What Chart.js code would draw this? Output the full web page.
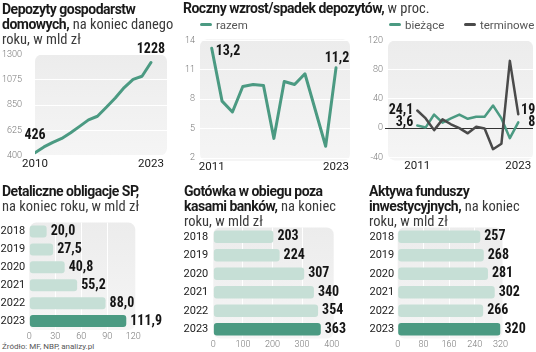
<!DOCTYPE html>
<html>
<head>
<meta charset="utf-8">
<script src="https://cdn.jsdelivr.net/npm/chart.js@4.4.1/dist/chart.umd.min.js"></script>
<style>
body { margin: 0; width: 536px; height: 352px; background: #fff; position: relative; overflow: hidden; font-family: Roboto, sans-serif; }
canvas { position: absolute; }
.t { position: absolute; font-size: 14px; line-height: 14.5px; color: #1a1a1a; white-space: nowrap; z-index: 2; }
.t b { font-weight: 700; letter-spacing: -0.5px; }
.t span { font-family: "Liberation Sans Narrow", "Roboto Condensed", Roboto, sans-serif; font-weight: 400; color: #3a3a3a; font-size: 14.5px; }
.lg { position: absolute; font-family: "Liberation Sans Narrow", Roboto, sans-serif; font-size: 11.5px; color: #555; line-height: 12px; z-index: 2; }
.lg i { display: inline-block; width: 12px; height: 3px; border-radius: 2px; vertical-align: middle; margin: -2px 4px 0 0; }
.src { position: absolute; left: 2px; top: 342px; font-family: "Liberation Sans Narrow", Roboto, sans-serif; font-size: 8px; color: #555; }
</style>
</head>
<body>

<div class="t" style="left:2px;top:2px"><b>Depozyty gospodarstw<br>domowych,</b> <span>na koniec danego<br>roku, w mld zł</span></div>
<div class="t" style="left:183px;top:1px"><b>Roczny wzrost/spadek depozytów,</b> <span>w proc.</span></div>
<div class="lg" style="left:200px;top:19px"><i style="background:#4b9a82"></i>razem</div>
<div class="lg" style="left:389px;top:19px"><i style="background:#4b9a82"></i>bieżące</div>
<div class="lg" style="left:464px;top:19px"><i style="background:#4a4a4a"></i>terminowe</div>
<div class="t" style="left:2px;top:184px"><b>Detaliczne obligacje SP,</b><br><span>na koniec roku, w mld zł</span></div>
<div class="t" style="left:184px;top:184px"><b>Gotówka w obiegu poza<br>kasami banków,</b> <span>na koniec<br>roku, w mld zł</span></div>
<div class="t" style="left:369px;top:184px"><b>Aktywa funduszy<br>inwestycyjnych,</b> <span>na koniec<br>roku, w mld zł</span></div>
<div class="src">Źródło: MF, NBP, analizy.pl</div>

<canvas id="c1" width="172" height="138" style="left:0;top:36px"></canvas>
<canvas id="c2" width="178" height="145" style="left:178px;top:30px"></canvas>
<canvas id="c3" width="180" height="145" style="left:356px;top:30px"></canvas>
<canvas id="c4" width="178" height="130" style="left:0;top:212px"></canvas>
<canvas id="c5" width="178" height="140" style="left:178px;top:212px"></canvas>
<canvas id="c6" width="180" height="140" style="left:356px;top:212px"></canvas>

<script>
// --- data ---
const depoYears = [2010, 2011, 2012, 2013, 2014, 2015, 2016, 2017, 2018, 2019, 2020, 2021, 2022, 2023];
const depoValues = [426, 477, 518, 553, 603, 660, 718, 750, 830, 912, 1005, 1078, 1106, 1228];

const growthYears = [2011, 2012, 2013, 2014, 2015, 2016, 2017, 2018, 2019, 2020, 2021, 2022, 2023];
const growthTotal = [13.2, 7.8, 6.7, 9.3, 9.5, 9.4, 4.0, 9.8, 9.5, 10.6, 6.9, 3.2, 11.2];
const growthCurrent = [3.6, 1, 18.6, 7.5, 13.3, 18.6, 12.8, 15.5, 15.5, 31, 13.3, -13.7, 8];
const growthTerm = [24.1, 13.3, -2.7, 12, 5.3, 0, -7.1, 1.8, -0.5, -28.8, -21.3, 92, 19];

const barYears = ['2018', '2019', '2020', '2021', '2022', '2023'];
const bonds = [20.0, 27.5, 40.8, 55.2, 88.0, 111.9];
const cash = [203, 224, 307, 340, 354, 363];
const funds = [257, 268, 281, 302, 266, 320];

// axis ranges: [min, max, step]
const depoAxis = [400, 1300, 225];
const totalAxis = [2, 14, 3];
const splitAxis = [-40, 120, 40];
const bondAxis = [0, 120, 30];
const cashAxis = [0, 400, 100];
const fundAxis = [0, 320, 80];

// --- style ---
const TEAL = '#4b9a82';
const TEAL_LIGHT = '#c6dfd6';
const GREY_LINE = '#4a4a4a';
const tickFont = { family: 'Roboto', size: 9, weight: '300' };
const yearFont = { family: 'Roboto', size: 11.5 };
const labelFont = 'bold 14px "Liberation Sans Narrow", "Roboto Condensed", Roboto, sans-serif';

function fmt(v, dec) {
    return v.toFixed(dec).replace('.', ',');
}

const panelBg = {
    id: 'panelBg',
    beforeDraw(chart, args, opts) {
        const { ctx, chartArea: a } = chart;
        const e = opts.extend || [0, 0, 0, 0];
        const x = a.left - e[3], y = a.top - e[0];
        const w = a.right - a.left + e[1] + e[3], h = a.bottom - a.top + e[0] + e[2];
        ctx.save();
        const g = ctx.createLinearGradient(0, y, 0, y + h);
        g.addColorStop(0, '#ececec');
        g.addColorStop(1, '#f5f5f5');
        ctx.fillStyle = g;
        ctx.beginPath();
        ctx.roundRect(x, y, w, h, 7);
        ctx.fill();
        ctx.restore();
    }
};

const zeroLine = {
    id: 'zeroLine',
    beforeDatasetsDraw(chart, args, opts) {
        if (!opts.show) return;
        const { ctx, chartArea: a } = chart;
        const y = Math.round(chart.scales.y.getPixelForValue(0)) + 0.5;
        ctx.save();
        ctx.strokeStyle = '#333';
        ctx.lineWidth = 1;
        ctx.beginPath();
        ctx.moveTo(a.left - 3, y);
        ctx.lineTo(a.right, y);
        ctx.stroke();
        ctx.restore();
    }
};

const valueLabels = {
    id: 'valueLabels',
    afterDatasetsDraw(chart, args, opts) {
        const ctx = chart.ctx;
        (opts.items || []).forEach(it => {
            const el = chart.getDatasetMeta(it.ds).data[it.i];
            ctx.save();
            ctx.font = labelFont;
            ctx.fillStyle = '#151515';
            ctx.textAlign = it.align || 'center';
            ctx.textBaseline = 'middle';
            ctx.fillText(it.text, el.x + (it.dx || 0), el.y + (it.dy || 0));
            ctx.restore();
        });
    }
};

Chart.register(panelBg, zeroLine, valueLabels);

function lineScales(xMin, xMax, xTicks, axis, yWidth, xHeight, yPad) {
    return {
        x: {
            type: 'linear', min: xMin, max: xMax,
            afterBuildTicks: s => { s.ticks = xTicks.map(v => ({ value: v })); },
            afterFit: s => { s.height = xHeight; },
            ticks: { callback: v => String(v), font: yearFont, color: '#1a1a1a', padding: 2, maxRotation: 0, autoSkip: false },
            grid: { display: false, drawTicks: false },
            border: { display: false }
        },
        y: {
            min: axis[0], max: axis[1],
            afterFit: s => { s.width = yWidth; },
            ticks: { stepSize: axis[2], callback: v => String(v), font: tickFont, color: '#777', padding: yPad, autoSkip: false },
            grid: { color: '#fff', lineWidth: 1, drawTicks: false },
            border: { display: false }
        }
    };
}

function pts(xs, ys) {
    return xs.map((x, i) => ({ x: x, y: ys[i] }));
}

const base = { responsive: false, animation: false, events: [] };

// 1. household deposits
new Chart('c1', {
    type: 'line',
    data: {
        datasets: [{
            data: pts(depoYears, depoValues),
            borderColor: TEAL, borderWidth: 3, pointRadius: 0, tension: 0,
            borderCapStyle: 'round', borderJoinStyle: 'round'
        }]
    },
    options: Object.assign({}, base, {
        layout: { padding: { top: 9.6, right: 5, left: 0, bottom: 0 } },
        scales: lineScales(2010, 2024.8, [2010, 2023], depoAxis, 35, 16, 13),
        plugins: {
            legend: { display: false }, tooltip: { enabled: false },
            panelBg: { extend: [0, 0, 0, 0] },
            valueLabels: { items: [
                { ds: 0, i: 0, text: String(depoValues[0]), dy: -17 },
                { ds: 0, i: depoValues.length - 1, text: String(depoValues[depoValues.length - 1]), dy: -13 }
            ] }
        }
    })
});

// 2. yearly growth, total
new Chart('c2', {
    type: 'line',
    data: {
        datasets: [{
            data: pts(growthYears, growthTotal),
            borderColor: TEAL, borderWidth: 3, pointRadius: 0, tension: 0,
            borderCapStyle: 'round', borderJoinStyle: 'round'
        }]
    },
    options: Object.assign({}, base, {
        layout: { padding: { top: 0.1, right: 6, left: 0, bottom: 0 } },
        scales: lineScales(2009.87, 2024.35, [2011, 2023], totalAxis, 22, 17, 5),
        plugins: {
            legend: { display: false }, tooltip: { enabled: false },
            panelBg: { extend: [1, 0, 3, 0] },
            valueLabels: { items: [
                { ds: 0, i: 0, text: fmt(growthTotal[0], 1), align: 'left', dx: 4, dy: 3 },
                { ds: 0, i: growthTotal.length - 1, text: fmt(growthTotal[growthTotal.length - 1], 1), dx: 1, dy: -9 }
            ] }
        }
    })
});

// 3. yearly growth, current vs term
const last = growthYears.length - 1;
new Chart('c3', {
    type: 'line',
    data: {
        datasets: [
            {
                data: pts(growthYears, growthTerm),
                borderColor: GREY_LINE, borderWidth: 2.5, pointRadius: 0, tension: 0,
                borderCapStyle: 'round', borderJoinStyle: 'round'
            },
            {
                data: pts(growthYears, growthCurrent),
                borderColor: TEAL, borderWidth: 2.5, pointRadius: 0, tension: 0,
                borderCapStyle: 'round', borderJoinStyle: 'round'
            }
        ]
    },
    options: Object.assign({}, base, {
        layout: { padding: { top: 2.6, right: 3, left: 0, bottom: 0 } },
        scales: lineScales(2007.52, 2024.75, [2011, 2023], splitAxis, 32, 17.6, 5),
        plugins: {
            legend: { display: false }, tooltip: { enabled: false },
            panelBg: { extend: [0, 0, 3, 0] },
            zeroLine: { show: true },
            valueLabels: { items: [
                { ds: 0, i: 0, text: fmt(growthTerm[0], 1), align: 'right', dx: -4, dy: 0 },
                { ds: 1, i: 0, text: fmt(growthCurrent[0], 1), align: 'right', dx: -4, dy: -3 },
                { ds: 0, i: last, text: String(growthTerm[last]), align: 'right', dx: 17, dy: -4 },
                { ds: 1, i: last, text: String(growthCurrent[last]), align: 'right', dx: 17, dy: 0 }
            ] }
        }
    })
});

// bars
function barChart(id, values, axis, dec, yWidth, yPad, pad, xHeight) {
    const max = axis[1];
    new Chart(id, {
        type: 'bar',
        data: {
            labels: barYears,
            datasets: [{
                data: values,
                backgroundColor: values.map((v, i) => i === values.length - 1 ? TEAL : TEAL_LIGHT),
                borderRadius: 3, borderSkipped: false,
                barPercentage: 0.67, categoryPercentage: 1
            }]
        },
        options: Object.assign({}, base, {
            indexAxis: 'y',
            layout: { padding: pad },
            scales: {
                x: {
                    min: axis[0], max: max,
                    afterFit: s => { s.height = xHeight; },
                    ticks: { stepSize: axis[2], callback: v => String(v), font: tickFont, color: '#777', padding: 1, autoSkip: false, maxRotation: 0 },
                    grid: {
                        color: c => (c.tick && (c.tick.value === 0 || c.tick.value === max)) ? 'rgba(0,0,0,0)' : '#fff',
                        drawTicks: false
                    },
                    border: { display: false }
                },
                y: {
                    afterFit: s => { s.width = yWidth; },
                    ticks: { font: { family: 'Roboto', size: 11 }, color: '#1a1a1a', padding: yPad, autoSkip: false },
                    grid: { display: false, drawTicks: false },
                    border: { display: false }
                }
            },
            plugins: {
                legend: { display: false }, tooltip: { enabled: false },
                panelBg: { extend: [0, 2, 0, 0] },
                valueLabels: { items: values.map((v, i) => ({ ds: 0, i: i, text: fmt(v, dec), align: 'left', dx: 4 })) }
            }
        })
    });
}

barChart('c4', bonds, bondAxis, 1, 29.3, 4, { top: 7, right: 44.7, left: 0, bottom: 0 }, 12);
barChart('c5', cash, cashAxis, 0, 35.3, 5, { top: 15.5, right: 24.3, left: 0, bottom: 0 }, 13.5);
barChart('c6', funds, fundAxis, 0, 41.7, 3.5, { top: 15.5, right: 35.5, left: 0, bottom: 0 }, 13.5);
</script>
</body>
</html>
